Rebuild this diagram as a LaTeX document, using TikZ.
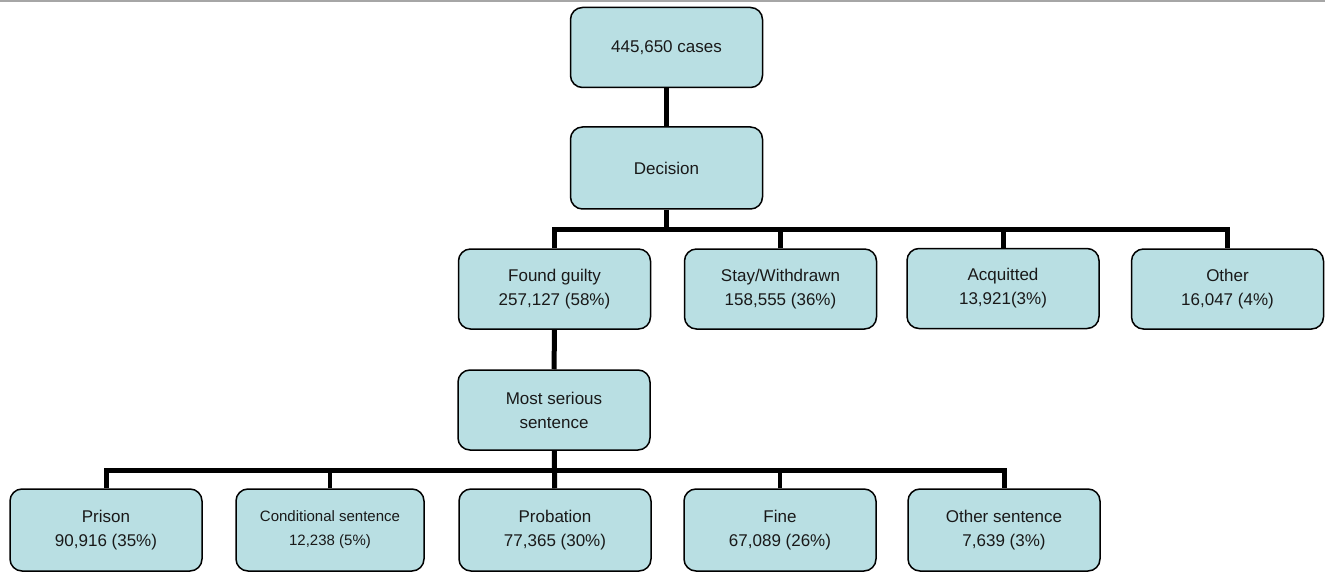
\documentclass[tikz,border=0pt]{standalone}
\usepackage{fontspec}
\setmainfont{Liberation Sans}
\usetikzlibrary{calc}
\definecolor{boxfill}{RGB}{185,223,227}
\definecolor{rulegray}{RGB}{166,166,166}
\begin{document}
\begin{tikzpicture}[x=1pt,y=-1pt,
  box/.style={draw,line width=1.5pt,fill=boxfill,rounded corners=12pt,
    minimum width=192pt,minimum height=80pt,inner sep=0pt,align=center,
    text=black!90,font=\fontsize{17}{24}\selectfont},
  link/.style={line width=5pt},
  thinlink/.style={line width=3.5pt}]
\useasboundingbox (0,0) rectangle (1325,572);
% Rule along the top edge
\draw[rulegray,line width=2pt] (0,1) coordinate (rl) -- (1325,1) coordinate (rr);
% Upper part of the tree
\node[box] (cases) at (666.5,47.5) {445,650 cases};
\node[box,minimum height=82pt] (decision) at (666.5,168) {Decision};
\node[box] (guilty) at (554.5,289) {Found guilty\\257,127 (58\%)};
\node[box] (stay) at (780.5,289) {Stay/Withdrawn\\158,555 (36\%)};
\node[box] (acquit) at (1003,288.5) {Acquitted\\13,921(3\%)};
\node[box] (other) at (1227.5,289) {Other\\16,047 (4\%)};
\node[box] (serious) at (554,410) {Most serious\\sentence};
% Lower row of sentences
\node[box,minimum height=82pt] (prison) at (106,530) {Prison\\90,916 (35\%)};
\node[box,minimum height=82pt,minimum width=188pt,
  font=\fontsize{15}{24}\selectfont] (cond) at (330,530)
  {Conditional sentence\\12,238 (5\%)};
\node[box,minimum height=82pt] (probation) at (555,530) {Probation\\77,365 (30\%)};
\node[box,minimum height=82pt] (fine) at (780,530) {Fine\\67,089 (26\%)};
\node[box,minimum height=82pt] (othersent) at (1004,530) {Other sentence\\7,639 (3\%)};
% Bus heights
\coordinate (busa) at (0,230);
\coordinate (busb) at (0,470);
% Connectors of the upper part
\draw[link] (cases) -- (decision);
\draw[link] (decision) -- (decision |- busa);
\draw[link] (guilty.north) -- (guilty.north |- busa) -- (other.north |- busa) -- (other.north);
\draw[link] (stay.north) -- (stay.north |- busa);
\draw[link] (acquit.north) -- (acquit.north |- busa);
\draw[link] (guilty) -- (serious);
% Connectors of the lower row
\draw[link] (serious) -- (probation);
\draw[link] (prison.north) -- (prison.north |- busb) -- (othersent.north |- busb) -- (othersent.north);
\draw[thinlink] (cond.north) -- (cond.north |- busb);
\draw[thinlink] (fine.north) -- (fine.north |- busb);
\end{tikzpicture}
\end{document}
